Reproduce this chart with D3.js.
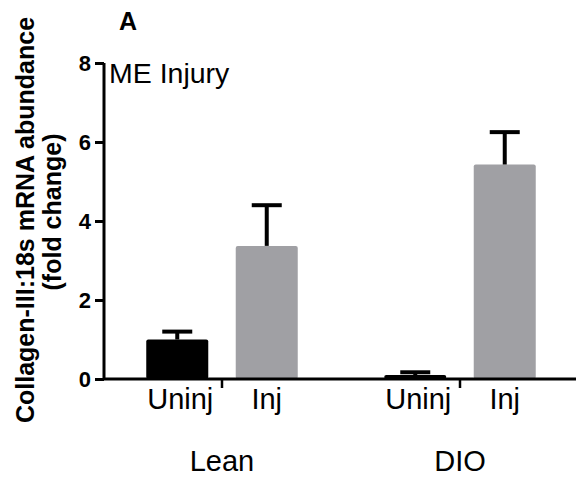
<!DOCTYPE html>
<html>
<head>
<meta charset="utf-8">
<script src="https://cdn.jsdelivr.net/npm/d3@7"></script>
<style>
  body { margin: 0; background: #fff; }
  text { font-family: "Liberation Sans", Arial, sans-serif; }
</style>
</head>
<body>
<script>
// data
var groups = ["Lean", "DIO"];
var conditions = ["Uninj", "Inj"];
var means = [[1.0, 3.37], [0.1, 5.43]];
var errTops = [[1.2, 4.4], [0.17, 6.25]];
var yTicks = [0, 2, 4, 6, 8];
var barColors = ["#000000", "#a0a0a4"];

var width = 576, height = 479;
var svg = d3.select("body").append("svg")
    .attr("width", width)
    .attr("height", height);

var y = d3.scaleLinear().domain([0, 8]).range([379, 63]);
var xGroup = d3.scaleBand().domain(groups).range([103, 579]);
var xCond = d3.scaleBand().domain(conditions).range([-75.75, 75.75]).paddingInner(0.307);

var rows = [];
groups.forEach(function(g, gi) {
  conditions.forEach(function(c, ci) {
    rows.push({group: g, cond: c, ci: ci, value: means[gi][ci], top: errTops[gi][ci]});
  });
});
function cx(d) { return xGroup(d.group) + xGroup.bandwidth() / 2 + xCond(d.cond) + xCond.bandwidth() / 2; }

// bars
svg.selectAll("rect.bar")
  .data(rows)
  .enter()
  .append("rect")
  .attr("class", "bar")
  .attr("x", function(d) { return cx(d) - xCond.bandwidth() / 2; })
  .attr("y", function(d) { return y(d.value); })
  .attr("width", xCond.bandwidth())
  .attr("height", function(d) { return y(0) - y(d.value); })
  .attr("rx", 2)
  .style("fill", function(d) { return barColors[d.ci]; });

// error bars (upper only)
var eb = svg.selectAll("g.err").data(rows).enter().append("g").attr("class", "err");
eb.append("line")
  .attr("x1", cx).attr("x2", cx)
  .attr("y1", function(d) { return y(d.value); })
  .attr("y2", function(d) { return y(d.top); })
  .style("stroke", "#000").style("stroke-width", 4);
eb.append("line")
  .attr("x1", function(d) { return cx(d) - 15; })
  .attr("x2", function(d) { return cx(d) + 15; })
  .attr("y1", function(d) { return y(d.top); })
  .attr("y2", function(d) { return y(d.top); })
  .style("stroke", "#000").style("stroke-width", 4);

// y axis
var yAxis = svg.append("g")
  .attr("transform", "translate(104,0)")
  .call(d3.axisLeft(y).tickValues(yTicks).tickSize(9).tickPadding(4).tickFormat(d3.format("d")));
yAxis.select(".domain").attr("d", "M0," + y(8) + "V" + y(0)).style("stroke-width", 3);
yAxis.selectAll(".tick line").style("stroke-width", 3);
yAxis.selectAll(".tick text")
  .style("font-size", "22px")
  .style("font-weight", "bold")
  .style("fill", "#000")
  .style("font-family", "'Liberation Sans', Arial, sans-serif");

// x axis line
svg.append("line")
  .attr("x1", 104).attr("x2", width)
  .attr("y1", y(0)).attr("y2", y(0))
  .style("stroke", "#000").style("stroke-width", 3);

// small ticks between the two bars of each group
svg.selectAll("line.gtick")
  .data(groups)
  .enter()
  .append("line")
  .attr("class", "gtick")
  .attr("x1", function(g) { return xGroup(g) + xGroup.bandwidth() / 2; })
  .attr("x2", function(g) { return xGroup(g) + xGroup.bandwidth() / 2; })
  .attr("y1", y(0)).attr("y2", y(0) + 9)
  .style("stroke", "#000").style("stroke-width", 2.5);

// condition labels
svg.selectAll("text.cond")
  .data(rows)
  .enter()
  .append("text")
  .attr("class", "cond")
  .attr("x", function(d) { return cx(d) + (d.ci === 0 ? 3 : 0); })
  .attr("y", 409)
  .attr("text-anchor", "middle")
  .style("font-size", "29px")
  .text(function(d) { return d.cond; });

// group labels
svg.selectAll("text.grp")
  .data(groups)
  .enter()
  .append("text")
  .attr("class", "grp")
  .attr("x", function(g) { return xGroup(g) + xGroup.bandwidth() / 2; })
  .attr("y", 471)
  .attr("text-anchor", "middle")
  .style("font-size", "29px")
  .text(function(g) { return g; });

// panel letter and inset title
svg.append("text")
  .attr("x", 128).attr("y", 30)
  .attr("text-anchor", "middle")
  .style("font-size", "25px").style("font-weight", "bold")
  .text("A");

svg.append("text")
  .attr("x", 109).attr("y", 83)
  .style("font-size", "28.5px")
  .text("ME Injury");

// y axis title
svg.append("text")
  .attr("transform", "translate(34,220) rotate(-90)")
  .attr("text-anchor", "middle")
  .style("font-size", "25px").style("font-weight", "bold")
  .text("Collagen-III:18s mRNA abundance");
svg.append("text")
  .attr("transform", "translate(61,212) rotate(-90)")
  .attr("text-anchor", "middle")
  .style("font-size", "25px").style("font-weight", "bold")
  .text("(fold change)");
</script>
</body>
</html>
